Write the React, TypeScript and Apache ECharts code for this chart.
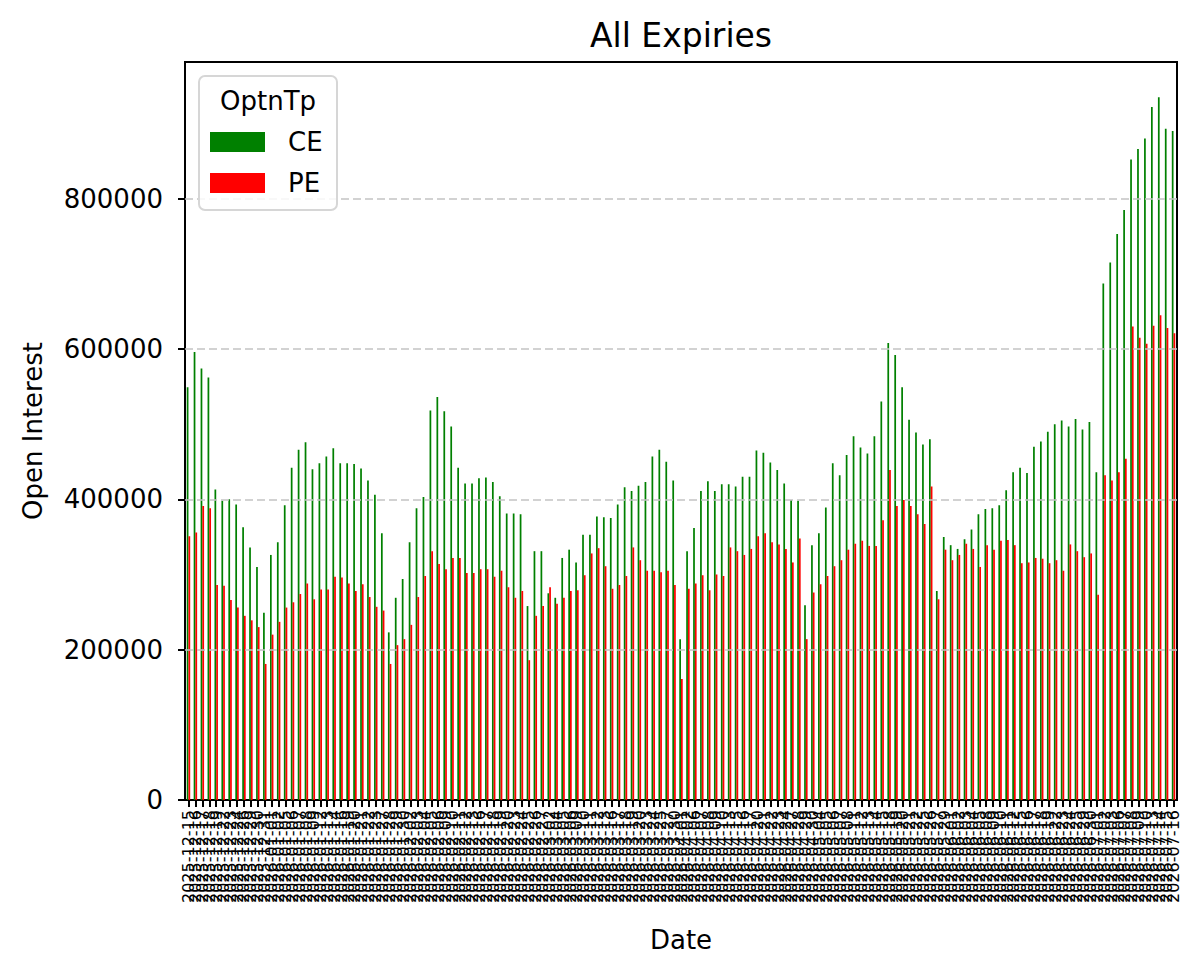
import React, { useEffect, useRef } from "react";
import * as echarts from "echarts";

// Trading dates (NSE sessions) on the category axis
const dates: string[] = [
  "2025-12-15", "2025-12-16", "2025-12-17", "2025-12-18", "2025-12-19", "2025-12-22", "2025-12-23", "2025-12-24", "2025-12-26", "2025-12-29",
  "2025-12-30", "2025-12-31", "2026-01-01", "2026-01-02", "2026-01-05", "2026-01-06", "2026-01-07", "2026-01-08", "2026-01-09", "2026-01-12",
  "2026-01-13", "2026-01-14", "2026-01-16", "2026-01-19", "2026-01-20", "2026-01-21", "2026-01-22", "2026-01-23", "2026-01-27", "2026-01-28",
  "2026-01-29", "2026-01-30", "2026-02-02", "2026-02-03", "2026-02-04", "2026-02-05", "2026-02-06", "2026-02-09", "2026-02-10", "2026-02-11",
  "2026-02-12", "2026-02-13", "2026-02-16", "2026-02-17", "2026-02-18", "2026-02-19", "2026-02-20", "2026-02-23", "2026-02-24", "2026-02-25",
  "2026-02-26", "2026-02-27", "2026-03-02", "2026-03-04", "2026-03-05", "2026-03-06", "2026-03-09", "2026-03-10", "2026-03-11", "2026-03-12",
  "2026-03-13", "2026-03-16", "2026-03-17", "2026-03-18", "2026-03-19", "2026-03-20", "2026-03-23", "2026-03-24", "2026-03-25", "2026-03-27",
  "2026-03-30", "2026-04-01", "2026-04-02", "2026-04-06", "2026-04-07", "2026-04-08", "2026-04-09", "2026-04-10", "2026-04-13", "2026-04-15",
  "2026-04-16", "2026-04-17", "2026-04-20", "2026-04-21", "2026-04-22", "2026-04-23", "2026-04-24", "2026-04-27", "2026-04-28", "2026-04-29",
  "2026-04-30", "2026-05-04", "2026-05-05", "2026-05-06", "2026-05-07", "2026-05-08", "2026-05-11", "2026-05-12", "2026-05-13", "2026-05-14",
  "2026-05-15", "2026-05-18", "2026-05-19", "2026-05-20", "2026-05-21", "2026-05-22", "2026-05-25", "2026-05-26", "2026-05-27", "2026-05-29",
  "2026-06-01", "2026-06-02", "2026-06-03", "2026-06-04", "2026-06-05", "2026-06-08", "2026-06-09", "2026-06-10", "2026-06-11", "2026-06-12",
  "2026-06-15", "2026-06-16", "2026-06-17", "2026-06-18", "2026-06-19", "2026-06-22", "2026-06-23", "2026-06-24", "2026-06-25", "2026-06-29",
  "2026-06-30", "2026-07-01", "2026-07-02", "2026-07-03", "2026-07-06", "2026-07-07", "2026-07-08", "2026-07-09", "2026-07-10", "2026-07-13",
  "2026-07-14", "2026-07-15", "2026-07-16",
];

// Call (CE) open interest per date
const ceOI: number[] = [
  549000, 596000, 574000, 562000, 413000, 398000, 400000, 393000, 363000, 336000,
  310000, 249000, 326000, 343000, 392000, 442000, 466000, 476000, 440000, 448000,
  457000, 468000, 448000, 448000, 447000, 441000, 425000, 406000, 355000, 223000,
  269000, 294000, 343000, 388000, 403000, 518000, 536000, 517000, 497000, 442000,
  421000, 421000, 428000, 429000, 423000, 404000, 381000, 381000, 380000, 258000,
  331000, 331000, 275000, 269000, 322000, 333000, 316000, 353000, 353000, 377000,
  376000, 375000, 393000, 416000, 411000, 418000, 423000, 457000, 466000, 450000,
  425000, 214000, 331000, 362000, 411000, 424000, 411000, 420000, 420000, 417000,
  430000, 430000, 465000, 462000, 449000, 439000, 421000, 399000, 398000, 259000,
  339000, 355000, 389000, 448000, 432000, 459000, 484000, 469000, 461000, 484000,
  530000, 608000, 592000, 549000, 506000, 489000, 473000, 480000, 278000, 350000,
  339000, 334000, 347000, 360000, 380000, 387000, 388000, 392000, 412000, 436000,
  442000, 435000, 470000, 477000, 490000, 500000, 505000, 497000, 507000, 493000,
  503000, 436000, 687000, 715000, 753000, 785000, 852000, 866000, 880000, 922000,
  935000, 893000, 890000,
];

// Put (PE) open interest per date
const peOI: number[] = [
  351000, 356000, 391000, 388000, 286000, 285000, 266000, 256000, 245000, 239000,
  230000, 181000, 220000, 237000, 256000, 263000, 274000, 288000, 267000, 280000,
  280000, 297000, 296000, 288000, 278000, 287000, 270000, 257000, 252000, 181000,
  206000, 214000, 233000, 270000, 298000, 331000, 314000, 307000, 322000, 322000,
  302000, 302000, 307000, 307000, 297000, 305000, 283000, 269000, 278000, 186000,
  245000, 258000, 283000, 261000, 269000, 278000, 279000, 299000, 328000, 335000,
  311000, 281000, 286000, 298000, 336000, 319000, 305000, 305000, 303000, 305000,
  286000, 161000, 281000, 288000, 299000, 279000, 300000, 298000, 336000, 331000,
  326000, 334000, 351000, 355000, 343000, 340000, 334000, 316000, 348000, 214000,
  276000, 287000, 298000, 311000, 319000, 333000, 341000, 345000, 338000, 338000,
  372000, 439000, 391000, 399000, 391000, 380000, 367000, 417000, 267000, 333000,
  319000, 326000, 341000, 334000, 310000, 339000, 333000, 345000, 346000, 339000,
  315000, 316000, 322000, 321000, 315000, 319000, 305000, 340000, 331000, 323000,
  328000, 273000, 432000, 425000, 436000, 454000, 630000, 615000, 607000, 631000,
  645000, 628000, 621000,
];

const seriesNames: string[] = ["CE", "PE"];
const yTicks: number[] = [0, 200000, 400000, 600000, 800000];
const yMax = 981750;

const FONT = "DejaVu Sans";

export default function App() {
  const ref = useRef<HTMLDivElement>(null);

  useEffect(() => {
    if (!ref.current) return;
    const chart = echarts.init(ref.current, null, { renderer: "svg" });

    const gridLines = {
      silent: true,
      symbol: ["none", "none"],
      label: { show: false },
      lineStyle: { color: "#c4c4c4", type: [8, 4], width: 1.6 },
      data: yTicks.filter((v) => v > 0).map((v) => ({ yAxis: v })),
    };

    chart.setOption({
      animation: false,
      backgroundColor: "#ffffff",
      textStyle: { fontFamily: FONT },
      grid: {
        left: 185,
        right: 25,
        top: 62,
        bottom: 176,
        show: true,
        borderColor: "#000",
        borderWidth: 2,
        backgroundColor: "transparent",
      },
      legend: {
        data: seriesNames,
        orient: "vertical",
        left: 210,
        top: 129,
        padding: 0,
        itemWidth: 55,
        itemHeight: 20,
        itemGap: 15,
        icon: "rect",
        z: 100,
        textStyle: { fontSize: 26, color: "#000", fontFamily: FONT, padding: [0, 0, 0, 18] },
      },
      xAxis: {
        type: "category",
        data: dates,
        name: "Date",
        nameLocation: "middle",
        nameGap: 127,
        nameTextStyle: { fontSize: 26, color: "#000", fontFamily: FONT },
        axisLine: { lineStyle: { color: "#000", width: 2 } },
        axisTick: { show: true, alignWithLabel: true, interval: 0, length: 7, lineStyle: { color: "#000", width: 2 } },
        axisLabel: { interval: 0, rotate: 90, fontSize: 16, color: "#000", margin: 10, fontFamily: FONT },
        splitLine: { show: false },
      },
      yAxis: {
        type: "value",
        min: 0,
        max: yMax,
        interval: 200000,
        name: "Open Interest",
        nameLocation: "middle",
        nameRotate: 90,
        nameGap: 139,
        nameTextStyle: { fontSize: 26, color: "#000", fontFamily: FONT },
        axisLine: { show: true, lineStyle: { color: "#000", width: 2 } },
        axisTick: { show: true, length: 7, lineStyle: { color: "#000", width: 2 }, customValues: yTicks },
        axisLabel: {
          fontSize: 26,
          color: "#000",
          margin: 22,
          fontFamily: FONT,
          customValues: yTicks,
          formatter: (v: number) => String(v),
        },
        splitLine: { show: false },
      },
      series: [
        {
          name: seriesNames[0],
          type: "bar",
          data: ceOI,
          barWidth: "25%",
          barGap: "0%",
          itemStyle: { color: "#008000" },
        },
        {
          name: seriesNames[1],
          type: "bar",
          data: peOI,
          barWidth: "25%",
          barGap: "0%",
          itemStyle: { color: "#ff0000" },
          markLine: gridLines,
        },
      ],
      graphic: [
        {
          type: "text",
          x: 681,
          y: 35,
          z: 100,
          style: {
            text: "All Expiries",
            fontSize: 33,
            fontFamily: FONT,
            fill: "#000",
            textAlign: "center",
            textVerticalAlign: "middle",
          },
        },
        {
          type: "rect",
          z: 50,
          shape: { x: 199, y: 76, width: 138, height: 134, r: 6 },
          style: { fill: "rgba(255,255,255,0.85)", stroke: "#d6d6d6", lineWidth: 2 },
        },
        {
          type: "text",
          x: 268,
          y: 101,
          z: 100,
          style: {
            text: "OptnTp",
            fontSize: 26,
            fontFamily: FONT,
            fill: "#000",
            textAlign: "center",
            textVerticalAlign: "middle",
          },
        },
      ],
    });

    return () => chart.dispose();
  }, []);

  return (
    <div
      ref={ref}
      style={{ position: "fixed", left: 0, top: 0, width: 1202, height: 976, background: "#fff" }}
    />
  );
}
